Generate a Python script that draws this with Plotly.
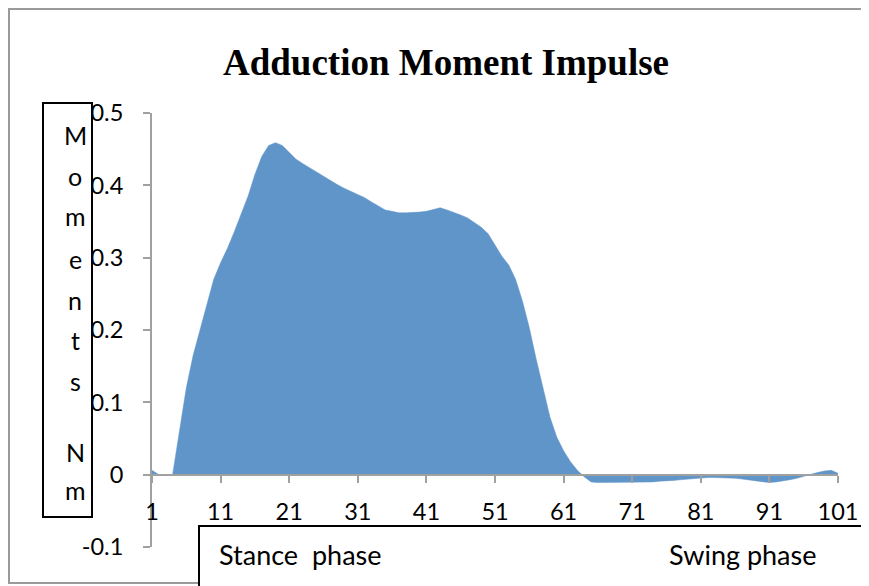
import plotly.graph_objects as go

# gait cycle percentage 1..101 and adduction moment (Nm)
cycle_pct = list(range(1, 102))
moment_nm = [
    0.006, 0.0, 0.0, 0.0, 0.06, 0.12, 0.165, 0.2, 0.235, 0.27,
    0.293, 0.313, 0.336, 0.36, 0.385, 0.415, 0.44, 0.455, 0.459, 0.455,
    0.445, 0.436, 0.43, 0.424, 0.418, 0.412, 0.406, 0.401, 0.396, 0.392,
    0.388, 0.383, 0.377, 0.371, 0.366, 0.364, 0.362, 0.362, 0.362, 0.363,
    0.364, 0.366, 0.369, 0.366, 0.363, 0.359, 0.355, 0.349, 0.342, 0.333,
    0.318, 0.302, 0.29, 0.27, 0.24, 0.203, 0.16, 0.12, 0.08, 0.052,
    0.033, 0.018, 0.006, -0.003, -0.01, -0.011, -0.011, -0.011, -0.011, -0.011,
    -0.011, -0.011, -0.010, -0.010, -0.009, -0.009, -0.008, -0.007, -0.006, -0.005,
    -0.005, -0.004, -0.004, -0.004, -0.004, -0.005, -0.006, -0.007, -0.008, -0.010,
    -0.011, -0.010, -0.009, -0.007, -0.005, -0.002, 0.0, 0.003, 0.005, 0.006,
    0.002,
]

x_ticks = [1, 11, 21, 31, 41, 51, 61, 71, 81, 91, 101]
y_ticks = [-0.1, 0, 0.1, 0.2, 0.3, 0.4, 0.5]
y_tick_text = ["-0.1", "0", "0.1", "0.2", "0.3", "0.4", "0.5"]

title_text = "Adduction Moment Impulse"
ytitle_letters = ["M", "o", "m", "e", "n", "t", "s", "N", "m"]
phase_labels = ["Stance  phase", "Swing phase"]

# page has an 8px body margin, so size the figure to the rest of the window
OFF = 8
W, H = 869 - OFF, 586 - OFF


def px(x):
    return (x - OFF) / W


def py(y):
    return 1 - (y - OFF) / H


axis_grey = "#a0a0a0"
fill_blue = "#6095C9"
font_sans = "Lato"

fig = go.Figure()
fig.add_trace(go.Scatter(
    x=cycle_pct, y=moment_nm, mode="lines", fill="tozeroy",
    fillcolor=fill_blue, line=dict(color=fill_blue, width=0.5),
    hoverinfo="skip", showlegend=False,
))

fig.update_layout(
    width=W, height=H,
    margin=dict(l=0, r=0, t=0, b=0, autoexpand=False),
    paper_bgcolor="white", plot_bgcolor="white",
    title=dict(text=title_text, x=px(446), y=py(62), xanchor="center", yanchor="middle",
               font=dict(family="Liberation Serif", size=37, color="black", weight="bold")),
    xaxis=dict(
        domain=[px(152), px(838)], range=[1, 101], anchor="free", position=py(475),
        tickvals=x_ticks, ticks="outside", ticklen=7, tickwidth=2, tickcolor=axis_grey,
        showline=True, linecolor=axis_grey, linewidth=2, showgrid=False, zeroline=False,
        tickfont=dict(family=font_sans, size=23.5, color="black"), ticklabelstandoff=9,
        automargin=False,
    ),
    yaxis=dict(
        domain=[py(547), py(113)], range=[-0.1, 0.5],
        tickvals=y_ticks, ticktext=y_tick_text, ticks="outside", ticklen=7, tickwidth=2,
        tickcolor=axis_grey, showline=True, linecolor=axis_grey, linewidth=2,
        showgrid=False, zeroline=False,
        tickfont=dict(family=font_sans, size=23.5, color="black"), ticklabelstandoff=15,
        automargin=False,
    ),
)

# outer chart border (right edge falls outside the window)
border_path = "M {} {} L {} {} L {} {} L {} {}".format(
    px(210), py(583), px(9), py(583), px(9), py(9), px(869), py(9))
fig.add_shape(type="path", xref="paper", yref="paper", path=border_path,
              line=dict(color="#9a9a9a", width=2), layer="below")

# y title box with stacked letters
fig.add_shape(type="rect", xref="paper", yref="paper",
              x0=px(43), x1=px(92), y0=py(517), y1=py(103),
              line=dict(color="black", width=2), fillcolor="white", layer="above")
letter_y = [135, 176, 216, 259, 300, 340, 381, 452, 490]
for ch, yy in zip(ytitle_letters, letter_y):
    fig.add_annotation(text=ch, xref="paper", yref="paper", x=px(75), y=py(yy),
                       xanchor="center", yanchor="middle", showarrow=False,
                       font=dict(family=font_sans, size=25, color="black"))

# phase box under the axis
fig.add_shape(type="rect", xref="paper", yref="paper",
              x0=px(199), x1=px(865), y0=py(600), y1=py(526),
              line=dict(color="black", width=2), fillcolor="white", layer="above")
fig.add_annotation(text=phase_labels[0], xref="paper", yref="paper", x=px(217), y=py(554),
                   xanchor="left", yanchor="middle", showarrow=False,
                   font=dict(family=font_sans, size=27, color="black"))
fig.add_annotation(text=phase_labels[1], xref="paper", yref="paper", x=px(667), y=py(554),
                   xanchor="left", yanchor="middle", showarrow=False,
                   font=dict(family=font_sans, size=27, color="black"))

fig.write_html("out.html")
